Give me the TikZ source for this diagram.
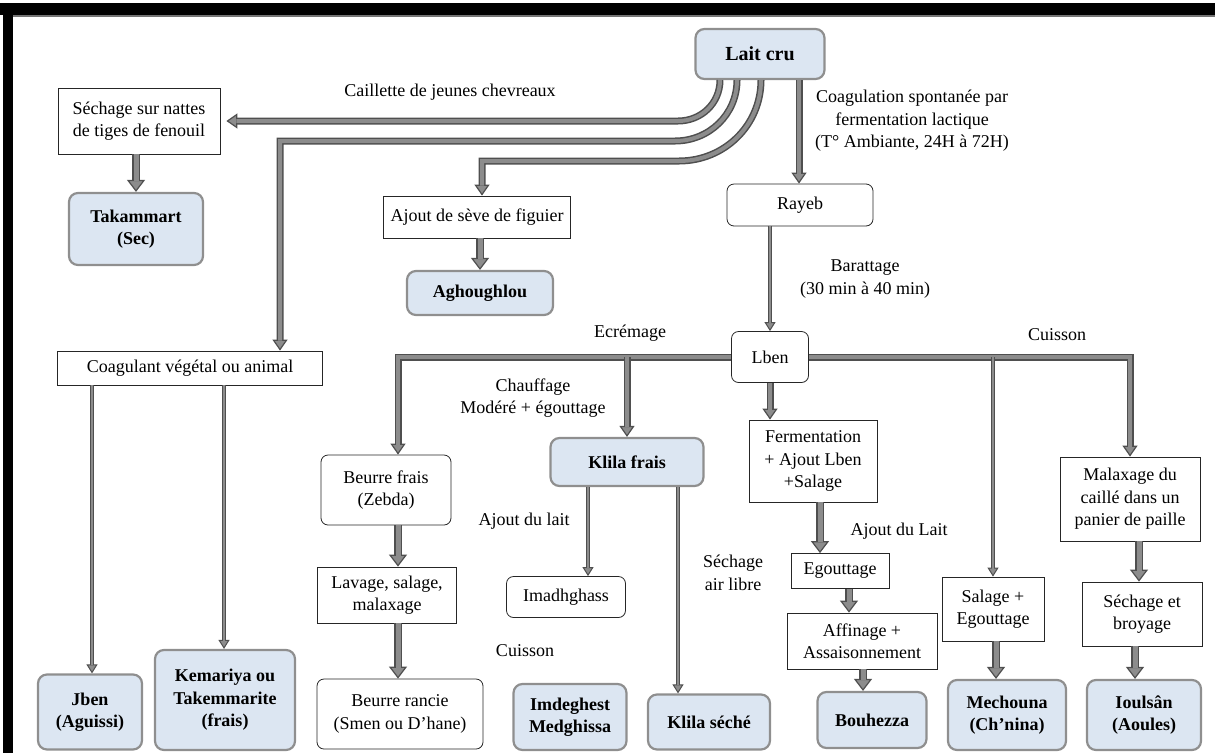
\documentclass[tikz,border=0pt]{standalone}
\usepackage{fontspec}
\setmainfont{Liberation Serif}
\usetikzlibrary{arrows.meta}
\definecolor{pipeout}{HTML}{4F4F4F}
\definecolor{pipein}{HTML}{8C8C8C}
\definecolor{bluefill}{HTML}{DCE6F2}
\definecolor{blueline}{HTML}{8F8F8F}
\newcommand\myfs{\rmfamily\fontsize{18}{22.5}\selectfont}
\newcommand\bigfs{\rmfamily\fontsize{20}{24}\selectfont}
\newcommand\bigpipe[1]{%
  \draw[line width=8pt,pipeout,-{Triangle[width=18pt,length=12pt,line width=1.2pt,fill=pipein]}] #1;
  \draw[line width=5pt,pipein,shorten >=11pt] #1;}
\newcommand\midpipe[1]{%
  \draw[line width=7pt,pipeout,line join=miter,-{Triangle[width=15pt,length=11pt,line width=1.2pt,fill=pipein]}] #1;
  \draw[line width=4pt,pipein,line join=miter,shorten >=10pt] #1;}
\newcommand\thinpipe[1]{%
  \draw[line width=4.6pt,pipeout,line join=miter,-{Triangle[width=11pt,length=9pt,line width=1pt,fill=pipein]}] #1;
  \draw[line width=1.8pt,pipein,line join=miter,shorten >=8pt] #1;}
\tikzset{
  plain/.style={draw=black!85,line width=0.8pt,fill=white,align=center,inner sep=2pt,font=\myfs},
  rplain/.style={plain,rounded corners=7pt},
  prod/.style={draw=blueline,line width=2.2pt,fill=bluefill,rounded corners=9pt,align=center,inner sep=2pt,font=\myfs\bfseries},
  lbl/.style={align=center,font=\myfs,inner sep=0pt},
}
\begin{document}
\begin{tikzpicture}[x=1pt,y=-1pt]
\useasboundingbox (0,0) rectangle (1215,753);
% frame
\fill[black] (0,3) rectangle (1215,15);
\fill[black] (3,3) rectangle (13,753);
\fill[black!55] (13,15) rectangle (1215,16.5);

% nodes
\node[prod,font=\bigfs\bfseries,minimum width=129pt,minimum height=50pt] (lait) at (760,54) {Lait cru};
\node[plain,minimum width=162pt,minimum height=66pt] (sech) at (139,121) {Séchage sur nattes\\de tiges de fenouil};
\node[prod,minimum width=134pt,minimum height=72pt] (taka) at (136,229) {Takammart\\(Sec)};
\node[plain,minimum width=187pt,minimum height=42pt] (ajout) at (477,217) {Ajout de sève de figuier};
\node[prod,minimum width=146pt,minimum height=44pt] (agh) at (480,293) {Aghoughlou};
\node[plain,minimum width=265pt,minimum height=34pt] (coag) at (190,368) {Coagulant végétal ou animal};
\node[prod,minimum width=104pt,minimum height=75pt] (jben) at (90,712) {Jben\\(Aguissi)};
\node[prod,minimum width=140pt,minimum height=100pt] (kema) at (225,700) {Kemariya ou\\Takemmarite\\(frais)};
\node[rplain,minimum width=146pt,minimum height=42pt] (rayeb) at (800,205) {Rayeb};
\node[rplain,minimum width=77pt,minimum height=51pt] (lben) at (770,357) {Lben};
\node[rplain,minimum width=130pt,minimum height=70pt] (bfrais) at (386,490) {Beurre frais\\(Zebda)};
\node[plain,minimum width=139pt,minimum height=56pt] (lavage) at (387,595) {Lavage, salage,\\malaxage};
\node[rplain,minimum width=166pt,minimum height=70pt] (brancie) at (400,714) {Beurre rancie\\(Smen ou D’hane)};
\node[prod,minimum width=153pt,minimum height=48pt] (klilaf) at (627,462) {Klila frais};
\node[rplain,minimum width=119pt,minimum height=41pt] (imadh) at (566,597) {Imadhghass};
\node[prod,minimum width=113pt,minimum height=66pt] (imdeg) at (570,717) {Imdeghest\\Medghissa};
\node[prod,minimum width=122pt,minimum height=55pt] (klilas) at (709,722) {Klila séché};
\node[plain,minimum width=128pt,minimum height=82pt] (ferm) at (813,461) {Fermentation\\+ Ajout Lben\\+Salage};
\node[plain,minimum width=98pt,minimum height=35pt] (egout) at (840,571) {Egouttage};
\node[plain,minimum width=150pt,minimum height=56pt] (affin) at (862,641) {Affinage +\\Assaisonnement};
\node[prod,minimum width=109pt,minimum height=56pt] (bouh) at (872,720) {Bouhezza};
\node[plain,minimum width=102pt,minimum height=64pt] (salage) at (993,609) {Salage +\\Egouttage};
\node[prod,minimum width=118pt,minimum height=70pt] (mech) at (1007,715) {Mechouna\\(Ch’nina)};
\node[plain,minimum width=140pt,minimum height=84pt] (malax) at (1130,499) {Malaxage du\\caillé dans un\\panier de paille};
\node[plain,minimum width=120pt,minimum height=64pt] (sechb) at (1142,614) {Séchage et\\broyage};
\node[prod,minimum width=114pt,minimum height=70pt] (ioul) at (1144,715) {Ioulsân\\(Aoules)};

% labels
\node[lbl] (lcaill) at (450,92) {Caillette de jeunes chevreaux};
\node[lbl] (lcoag) at (912,121) {Coagulation spontanée par\\fermentation lactique\\(T° Ambiante, 24H à 72H)};
\node[lbl] (lbar) at (865,279) {Barattage\\(30 min à 40 min)};
\node[lbl] (lecr) at (630,333) {Ecrémage};
\node[lbl] (lcuis) at (1057,335) {Cuisson};
\node[lbl] (lchauf) at (533,398) {Chauffage\\Modéré + égouttage};
\node[lbl] (lajl) at (524,521) {Ajout du lait};
\node[lbl] (lcuis2) at (525,651) {Cuisson};
\node[lbl] (lsech) at (733,573) {Séchage\\air libre};
\node[lbl] (lajL) at (899,531) {Ajout du Lait};

% helper coordinates
\coordinate (a0) at ([xshift=-40pt]lait.south);
\coordinate (b0) at ([xshift=-23pt]lait.south);
\coordinate (c0) at ([xshift=1pt]lait.south);
\coordinate (d0) at ([xshift=39pt]lait.south);
\coordinate (a1) at (678,121);
\coordinate (b1) at (675,141);
\coordinate (b2) at (280,141);
\coordinate (c1) at (679,161);
\coordinate (c2) at (482,161);
\coordinate (x92) at (92,0);
\coordinate (x224) at (224,0);
\coordinate (x398) at (398,0);
\coordinate (x588) at (588,0);
\coordinate (x678) at (678,0);
\coordinate (x820) at (820,0);
\coordinate (x849) at (849,0);
\coordinate (x863) at (863,0);
\coordinate (x996) at (996,0);
\coordinate (x1139) at (1139,0);
\coordinate (x1135) at (1135,0);

% connectors from Lait cru
\midpipe{(a0) .. controls +(0,23.2) and +(23.2,0) .. (a1) -- ([xshift=6pt]sech.east)}
\midpipe{(b0) .. controls +(0,34.2) and +(34.2,0) .. (b1) -- (b2) -- (coag.north -| b2)}
\midpipe{(c0) .. controls +(0,45.3) and +(45.3,0) .. (c1) -- (c2) -- (ajout.north -| c2)}
\midpipe{(d0) -- (rayeb.north -| d0)}
\thinpipe{(rayeb.south -| lben.north) -- (lben.north)}

% short arrows
\bigpipe{(taka.north |- sech.south) -- (taka.north)}
\bigpipe{(agh.north |- ajout.south) -- (agh.north)}
\bigpipe{(bfrais.south -| x398) -- (lavage.north -| x398)}
\bigpipe{(lavage.south -| x398) -- (brancie.north -| x398)}
\bigpipe{(ferm.south -| x820) -- (egout.north -| x820)}
\bigpipe{(egout.south -| x849) -- (affin.north -| x849)}
\bigpipe{(affin.south -| x863) -- (bouh.north -| x863)}
\bigpipe{(salage.south -| x996) -- (mech.north -| x996)}
\bigpipe{(malax.south -| x1139) -- (sechb.north -| x1139)}
\bigpipe{(sechb.south -| x1135) -- (ioul.north -| x1135)}

% Coagulant branches
\thinpipe{(coag.south -| x92) -- (jben.north -| x92)}
\thinpipe{(coag.south -| x224) -- (kema.north -| x224)}

% Lben bars
\midpipe{(lben.west) -- (lben.west -| x398) -- (bfrais.north -| x398)}
\midpipe{(lben.east) -- (lben.east -| malax.north) -- (malax.north)}
\midpipe{(lben.west -| klilaf.north) -- (klilaf.north)}
\thinpipe{(lben.east -| salage.north) -- (salage.north)}
\midpipe{(lben.south) -- (lben.south |- ferm.north)}

% Klila frais branches
\thinpipe{(klilaf.south -| x588) -- (imadh.north -| x588)}
\thinpipe{(klilaf.south -| x678) -- (klilas.north -| x678)}
\end{tikzpicture}
\end{document}
